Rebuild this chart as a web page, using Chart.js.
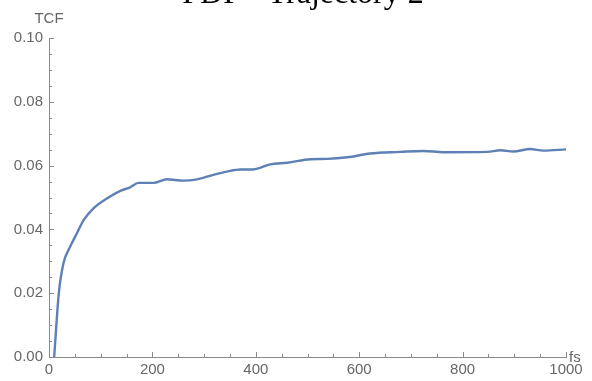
<!DOCTYPE html>
<html lang="en">
<head>
  <meta charset="UTF-8">
  <title>TCF</title>
  <style>
    html, body { margin: 0; padding: 0; background: #fff; overflow: hidden; }
    #wrap { position: relative; width: 592px; height: 381px; }
  </style>
  <script src="https://cdn.jsdelivr.net/npm/chart.js"></script>
</head>
<body>
  <div id="wrap"><canvas id="tcfChart" width="592" height="381"></canvas></div>
  <script>
    // --- data ---
    const timeFs = [10, 19, 28, 41, 54, 67, 86, 112, 138, 157, 173, 202, 228, 260, 286, 318, 344, 370, 395, 428,
                    461, 506, 538, 577, 621, 679, 724, 763, 848, 873, 898, 931, 956, 1000];
    const tcfValues = [0, 0.020, 0.0294, 0.0346, 0.0388, 0.0429, 0.0466, 0.0497, 0.0521, 0.0532, 0.0546, 0.0546,
                       0.0557, 0.0553, 0.0557, 0.0571, 0.0581, 0.0588, 0.0588, 0.0604, 0.0609, 0.0620, 0.0621,
                       0.0626, 0.0638, 0.0643, 0.0646, 0.0642, 0.0643, 0.0648, 0.0644, 0.0652, 0.0647, 0.0651];
    const xTicks = [0, 200, 400, 600, 800, 1000];
    const yTicks = [0, 0.02, 0.04, 0.06, 0.08, 0.10];
    const titleText = 'PDF - Trajectory 2';
    const xName = 'fs';
    const yName = 'TCF';

    const axisGrey = '#8a8a8a';
    const labelGrey = '#666666';
    const labelFont = { family: "'Liberation Sans', Arial, sans-serif", size: 15 };

    // inward ticks (major + minor) and axis names, Mathematica style
    const frameStuff = {
      id: 'frameStuff',
      afterDatasetsDraw(chart) {
        const ctx = chart.ctx;
        const xs = chart.scales.x, ys = chart.scales.y;
        const x0 = xs.left, y0 = ys.bottom;
        ctx.save();
        ctx.strokeStyle = axisGrey;
        ctx.lineWidth = 1;
        ctx.beginPath();
        for (let i = 0; i <= 20; i++) {
          const px = Math.round(xs.getPixelForValue(i * 50)) + 0.5;
          const len = i % 4 === 0 ? 5 : 3;
          ctx.moveTo(px, y0);
          ctx.lineTo(px, y0 - len);
        }
        for (let i = 0; i <= 20; i++) {
          const py = Math.round(ys.getPixelForValue(i * 0.005)) + 0.5;
          const len = i % 4 === 0 ? 5 : 3;
          ctx.moveTo(x0, py);
          ctx.lineTo(x0 + len, py);
        }
        ctx.stroke();

        ctx.fillStyle = labelGrey;
        ctx.font = "15px 'Liberation Sans', Arial, sans-serif";
        ctx.textBaseline = 'alphabetic';
        ctx.textAlign = 'center';
        ctx.fillText(yName, x0, 23);
        ctx.textAlign = 'left';
        ctx.fillText(xName, xs.right + 3, y0 + 5);

        // title, cut off at top edge as in the original
        ctx.fillStyle = '#000';
        ctx.font = "32px 'Liberation Serif', 'Times New Roman', serif";
        ctx.textAlign = 'center';
        ctx.fillText(titleText, 303, 3);
        ctx.restore();
      }
    };

    new Chart(document.getElementById('tcfChart'), {
      type: 'line',
      data: {
        datasets: [{
          data: timeFs.map((t, i) => ({ x: t, y: tcfValues[i] })),
          borderColor: '#5E81B5',
          borderWidth: 2.4,
          pointRadius: 0,
          tension: 0.3,
          cubicInterpolationMode: 'monotone',
          fill: false
        }]
      },
      options: {
        responsive: false,
        animation: false,
        layout: { padding: { top: 38, right: 26, left: 0, bottom: 0 } },
        plugins: { legend: { display: false }, tooltip: { enabled: false }, title: { display: false } },
        scales: {
          x: {
            type: 'linear',
            min: 0, max: 1000,
            afterFit(s) { s.height = 24; },
            afterBuildTicks(s) { s.ticks = xTicks.map(v => ({ value: v })); },
            grid: { display: false, drawTicks: false },
            border: { display: true, color: axisGrey, width: 1 },
            ticks: { color: labelGrey, font: labelFont, padding: 4, maxRotation: 0, callback: v => String(v) }
          },
          y: {
            type: 'linear',
            min: 0, max: 0.1,
            afterFit(s) { s.width = 49; },
            afterBuildTicks(s) { s.ticks = yTicks.map(v => ({ value: v })); },
            grid: { display: false, drawTicks: false },
            border: { display: true, color: axisGrey, width: 1 },
            ticks: { color: labelGrey, font: labelFont, padding: 6, callback: v => v.toFixed(2) }
          }
        }
      },
      plugins: [frameStuff]
    });
  </script>
</body>
</html>
